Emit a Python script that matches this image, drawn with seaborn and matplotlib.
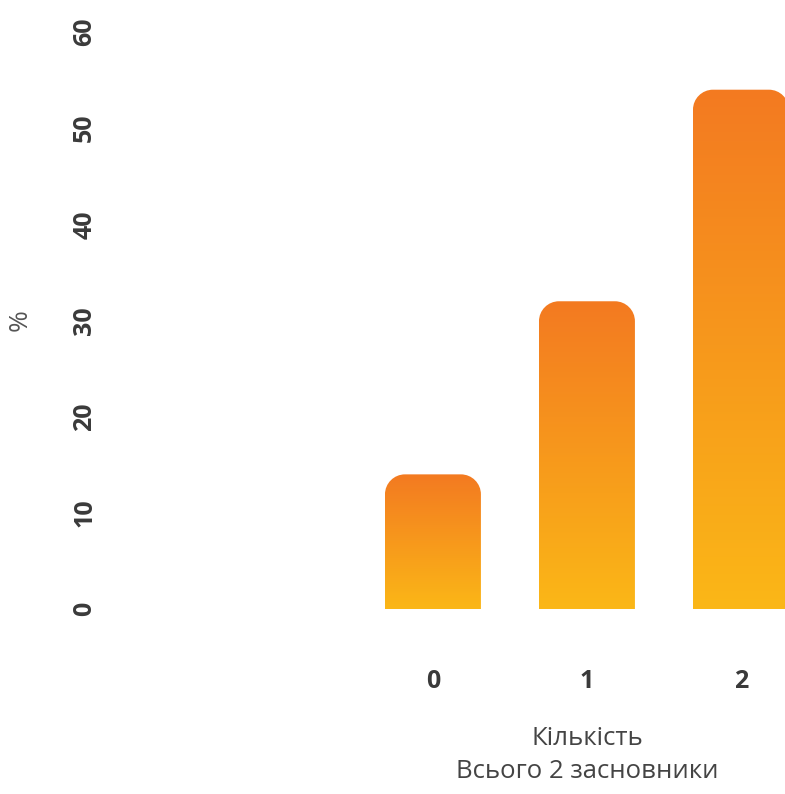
import numpy as np
import pandas as pd
import matplotlib
matplotlib.use("Agg")
import matplotlib.pyplot as plt
import matplotlib.transforms as mtransforms
from matplotlib.path import Path
from matplotlib.patches import PathPatch
import seaborn as sns

# data
counts = ["0", "1", "2"]
shares = [14, 32, 54]
y_ticks = [0, 10, 20, 30, 40, 50, 60]
x_label = "Кількість\nВсього 2 засновники"
y_label = "%"

TOP_COLOR = "#F37A21"
BOTTOM_COLOR = "#FBB717"
TEXT_COLOR = "#3a3a3a"


def rounded_top(x0, w, h, rx, ry):
    """Bar outline with circular top corners (cubic bezier arcs)."""
    k = 0.5523
    x1 = x0 + w
    verts = [
        (x0, 0), (x0, h - ry),
        (x0, h - ry + k * ry), (x0 + rx - k * rx, h), (x0 + rx, h),
        (x1 - rx, h),
        (x1 - rx + k * rx, h), (x1, h - ry + k * ry), (x1, h - ry),
        (x1, 0), (x0, 0),
    ]
    codes = [Path.MOVETO, Path.LINETO,
             Path.CURVE4, Path.CURVE4, Path.CURVE4,
             Path.LINETO,
             Path.CURVE4, Path.CURVE4, Path.CURVE4,
             Path.LINETO, Path.CLOSEPOLY]
    return Path(verts, codes)


sns.set_theme(style="white")
plt.rcParams["font.family"] = ["Open Sans", "DejaVu Sans"]

df = pd.DataFrame({"count": counts, "share": shares})

fig = plt.figure(figsize=(7.85, 7.94), dpi=100)
# axes from x=100px to the right edge, y from 32px to 609px
ax = fig.add_axes([100 / 785, (794 - 609) / 794, 685 / 785, 577 / 794])

sns.barplot(data=df, x="count", y="share", order=counts, width=0.623,
            color="white", ax=ax)

xlim = (-2.162, 2.286)
ylim = (0, 60)

# px -> data units for the corner radius
px_x = (xlim[1] - xlim[0]) / 685
px_y = (ylim[1] - ylim[0]) / 577
rad_px = 20
rx, ry = rad_px * px_x, rad_px * px_y

top = np.array(matplotlib.colors.to_rgb(TOP_COLOR))
bot = np.array(matplotlib.colors.to_rgb(BOTTOM_COLOR))
grad = np.linspace(0, 1, 256)[:, None]
grad_img = (top[None, :] * (1 - grad) + bot[None, :] * grad)[:, None, :]

for bar in list(ax.patches):
    x0, w, h = bar.get_x(), bar.get_width(), bar.get_height()
    bar.set_visible(False)
    shape = PathPatch(rounded_top(x0, w, h, rx, ry), transform=ax.transData,
                      facecolor="none", edgecolor="none")
    ax.add_patch(shape)
    im = ax.imshow(grad_img, extent=[x0, x0 + w, 0, h], aspect="auto",
                   origin="upper", zorder=2)
    im.set_clip_path(shape)

ax.set_xlim(*xlim)
ax.set_ylim(*ylim)
ax.set_yticks(y_ticks)
ax.set_yticklabels([str(t) for t in y_ticks], rotation=90, va="center")

ax.tick_params(axis="both", length=0, labelsize=18, colors=TEXT_COLOR)
ax.tick_params(axis="x", pad=43)
ax.tick_params(axis="y", pad=2)
for lab in ax.get_xticklabels() + ax.get_yticklabels():
    lab.set_fontweight("bold")

ax.set_xlabel(x_label, fontsize=18.5, color="#444444", linespacing=1.4,
              va="top")
ax.xaxis.set_label_coords(1, -0.203,
                          transform=mtransforms.blended_transform_factory(ax.transData, ax.transAxes))
ax.set_ylabel(y_label, fontsize=19, color="#555555")
ax.yaxis.set_label_coords(-0.099, 0.5)

sns.despine(ax=ax, left=True, bottom=True)
ax.grid(False)

fig.savefig("out.png", dpi=100)
